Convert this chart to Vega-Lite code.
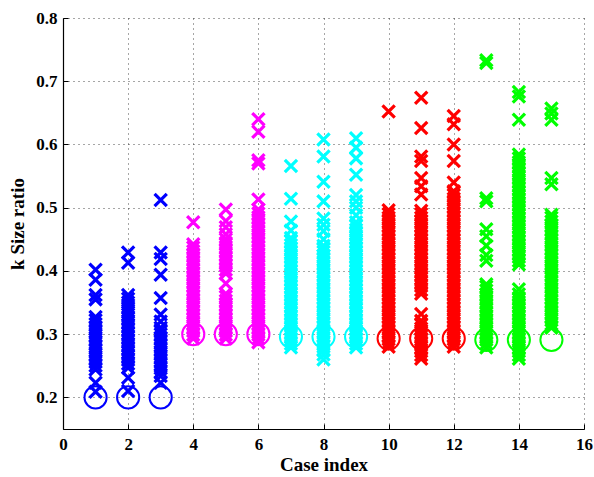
{
"$schema": "https://vega.github.io/schema/vega-lite/v6.json",
"width": 521, "height": 411,
"autosize": "none",
"padding": {"left": 63, "top": 18, "right": 10, "bottom": 48},
"background": "white",
"config": {
 "view": {"stroke": null},
 "axis": {
  "labelFont": "Liberation Serif", "labelFontWeight": "bold", "labelFontSize": 17, "labelColor": "black",
  "titleFont": "Liberation Serif", "titleFontWeight": "bold", "titleFontSize": 19, "titleColor": "black",
  "domainColor": "black", "domainWidth": 1.2, "tickColor": "black", "tickSize": -5, "tickWidth": 1,
  "grid": true, "gridColor": "#222222", "gridDash": [1, 4], "gridWidth": 1, "gridOpacity": 0.8
 }
},
"datasets": {
 "xs": [
  {"c":1,"k":0.402},{"c":1,"k":0.386},{"c":1,"k":0.362},{"c":1,"k":0.355},{"c":1,"k":0.223},{"c":1,"k":0.209},
  {"c":1,"k":0.244},{"c":1,"k":0.25},{"c":1,"k":0.256},{"c":1,"k":0.262},{"c":1,"k":0.268},{"c":1,"k":0.274},{"c":1,"k":0.28},{"c":1,"k":0.286},{"c":1,"k":0.292},{"c":1,"k":0.298},{"c":1,"k":0.304},{"c":1,"k":0.31},{"c":1,"k":0.316},{"c":1,"k":0.322},{"c":1,"k":0.327},
  {"c":2,"k":0.429},{"c":2,"k":0.413},{"c":2,"k":0.231},{"c":2,"k":0.21},
  {"c":2,"k":0.247},{"c":2,"k":0.253},{"c":2,"k":0.259},{"c":2,"k":0.265},{"c":2,"k":0.271},{"c":2,"k":0.277},{"c":2,"k":0.283},{"c":2,"k":0.289},{"c":2,"k":0.295},{"c":2,"k":0.301},{"c":2,"k":0.307},{"c":2,"k":0.313},{"c":2,"k":0.319},{"c":2,"k":0.325},{"c":2,"k":0.331},{"c":2,"k":0.337},{"c":2,"k":0.343},{"c":2,"k":0.35},{"c":2,"k":0.356},{"c":2,"k":0.362},
  {"c":3,"k":0.512},{"c":3,"k":0.429},{"c":3,"k":0.419},{"c":3,"k":0.394},{"c":3,"k":0.357},{"c":3,"k":0.331},{"c":3,"k":0.32},{"c":3,"k":0.223},
  {"c":3,"k":0.234},{"c":3,"k":0.24},{"c":3,"k":0.246},{"c":3,"k":0.252},{"c":3,"k":0.258},{"c":3,"k":0.264},{"c":3,"k":0.27},{"c":3,"k":0.276},{"c":3,"k":0.282},{"c":3,"k":0.288},{"c":3,"k":0.294},{"c":3,"k":0.3},{"c":3,"k":0.306},{"c":3,"k":0.31},
  {"c":4,"k":0.477},
  {"c":4,"k":0.293},{"c":4,"k":0.299},{"c":4,"k":0.305},{"c":4,"k":0.311},{"c":4,"k":0.317},{"c":4,"k":0.323},{"c":4,"k":0.329},{"c":4,"k":0.335},{"c":4,"k":0.341},{"c":4,"k":0.347},{"c":4,"k":0.353},{"c":4,"k":0.359},{"c":4,"k":0.365},{"c":4,"k":0.371},{"c":4,"k":0.377},{"c":4,"k":0.383},{"c":4,"k":0.389},{"c":4,"k":0.395},{"c":4,"k":0.401},{"c":4,"k":0.407},{"c":4,"k":0.413},{"c":4,"k":0.419},{"c":4,"k":0.425},{"c":4,"k":0.431},{"c":4,"k":0.437},{"c":4,"k":0.442},
  {"c":5,"k":0.497},{"c":5,"k":0.479},{"c":5,"k":0.469},
  {"c":5,"k":0.293},{"c":5,"k":0.299},{"c":5,"k":0.305},{"c":5,"k":0.311},{"c":5,"k":0.317},{"c":5,"k":0.323},{"c":5,"k":0.329},{"c":5,"k":0.335},{"c":5,"k":0.341},{"c":5,"k":0.347},{"c":5,"k":0.353},{"c":5,"k":0.359},{"c":5,"k":0.364},{"c":5,"k":0.38},{"c":5,"k":0.396},{"c":5,"k":0.402},{"c":5,"k":0.408},{"c":5,"k":0.414},{"c":5,"k":0.42},{"c":5,"k":0.426},{"c":5,"k":0.432},{"c":5,"k":0.438},{"c":5,"k":0.444},{"c":5,"k":0.45},{"c":5,"k":0.458},
  {"c":6,"k":0.64},{"c":6,"k":0.62},{"c":6,"k":0.575},{"c":6,"k":0.57},{"c":6,"k":0.513},
  {"c":6,"k":0.287},{"c":6,"k":0.293},{"c":6,"k":0.299},{"c":6,"k":0.305},{"c":6,"k":0.311},{"c":6,"k":0.317},{"c":6,"k":0.323},{"c":6,"k":0.329},{"c":6,"k":0.335},{"c":6,"k":0.341},{"c":6,"k":0.347},{"c":6,"k":0.353},{"c":6,"k":0.359},{"c":6,"k":0.365},{"c":6,"k":0.371},{"c":6,"k":0.377},{"c":6,"k":0.383},{"c":6,"k":0.389},{"c":6,"k":0.395},{"c":6,"k":0.401},{"c":6,"k":0.407},{"c":6,"k":0.413},{"c":6,"k":0.419},{"c":6,"k":0.425},{"c":6,"k":0.431},{"c":6,"k":0.437},{"c":6,"k":0.443},{"c":6,"k":0.449},{"c":6,"k":0.455},{"c":6,"k":0.461},{"c":6,"k":0.467},{"c":6,"k":0.473},{"c":6,"k":0.479},{"c":6,"k":0.485},{"c":6,"k":0.491},{"c":6,"k":0.497},
  {"c":7,"k":0.566},{"c":7,"k":0.514},{"c":7,"k":0.478},{"c":7,"k":0.464},
  {"c":7,"k":0.279},{"c":7,"k":0.285},{"c":7,"k":0.291},{"c":7,"k":0.297},{"c":7,"k":0.303},{"c":7,"k":0.309},{"c":7,"k":0.315},{"c":7,"k":0.321},{"c":7,"k":0.327},{"c":7,"k":0.333},{"c":7,"k":0.339},{"c":7,"k":0.345},{"c":7,"k":0.351},{"c":7,"k":0.357},{"c":7,"k":0.363},{"c":7,"k":0.369},{"c":7,"k":0.375},{"c":7,"k":0.381},{"c":7,"k":0.387},{"c":7,"k":0.393},{"c":7,"k":0.399},{"c":7,"k":0.405},{"c":7,"k":0.411},{"c":7,"k":0.417},{"c":7,"k":0.423},{"c":7,"k":0.429},{"c":7,"k":0.435},{"c":7,"k":0.441},{"c":7,"k":0.447},{"c":7,"k":0.452},
  {"c":8,"k":0.608},{"c":8,"k":0.581},{"c":8,"k":0.541},{"c":8,"k":0.51},{"c":8,"k":0.483},{"c":8,"k":0.473},{"c":8,"k":0.463},{"c":8,"k":0.45},{"c":8,"k":0.26},
  {"c":8,"k":0.268},{"c":8,"k":0.274},{"c":8,"k":0.28},{"c":8,"k":0.286},{"c":8,"k":0.292},{"c":8,"k":0.298},{"c":8,"k":0.304},{"c":8,"k":0.31},{"c":8,"k":0.316},{"c":8,"k":0.322},{"c":8,"k":0.328},{"c":8,"k":0.334},{"c":8,"k":0.34},{"c":8,"k":0.346},{"c":8,"k":0.352},{"c":8,"k":0.358},{"c":8,"k":0.364},{"c":8,"k":0.37},{"c":8,"k":0.376},{"c":8,"k":0.382},{"c":8,"k":0.388},{"c":8,"k":0.394},{"c":8,"k":0.4},{"c":8,"k":0.406},{"c":8,"k":0.412},{"c":8,"k":0.418},{"c":8,"k":0.424},{"c":8,"k":0.43},{"c":8,"k":0.436},{"c":8,"k":0.44},
  {"c":9,"k":0.61},{"c":9,"k":0.595},{"c":9,"k":0.578},{"c":9,"k":0.552},{"c":9,"k":0.52},{"c":9,"k":0.51},{"c":9,"k":0.5},{"c":9,"k":0.488},
  {"c":9,"k":0.279},{"c":9,"k":0.285},{"c":9,"k":0.291},{"c":9,"k":0.297},{"c":9,"k":0.303},{"c":9,"k":0.309},{"c":9,"k":0.315},{"c":9,"k":0.321},{"c":9,"k":0.327},{"c":9,"k":0.333},{"c":9,"k":0.339},{"c":9,"k":0.345},{"c":9,"k":0.351},{"c":9,"k":0.357},{"c":9,"k":0.363},{"c":9,"k":0.369},{"c":9,"k":0.375},{"c":9,"k":0.381},{"c":9,"k":0.387},{"c":9,"k":0.393},{"c":9,"k":0.399},{"c":9,"k":0.405},{"c":9,"k":0.411},{"c":9,"k":0.417},{"c":9,"k":0.423},{"c":9,"k":0.429},{"c":9,"k":0.435},{"c":9,"k":0.441},{"c":9,"k":0.447},{"c":9,"k":0.453},{"c":9,"k":0.459},{"c":9,"k":0.465},{"c":9,"k":0.471},{"c":9,"k":0.477},
  {"c":10,"k":0.652},
  {"c":10,"k":0.28},{"c":10,"k":0.286},{"c":10,"k":0.292},{"c":10,"k":0.298},{"c":10,"k":0.304},{"c":10,"k":0.31},{"c":10,"k":0.316},{"c":10,"k":0.322},{"c":10,"k":0.328},{"c":10,"k":0.334},{"c":10,"k":0.34},{"c":10,"k":0.346},{"c":10,"k":0.352},{"c":10,"k":0.358},{"c":10,"k":0.364},{"c":10,"k":0.37},{"c":10,"k":0.376},{"c":10,"k":0.382},{"c":10,"k":0.388},{"c":10,"k":0.394},{"c":10,"k":0.4},{"c":10,"k":0.406},{"c":10,"k":0.412},{"c":10,"k":0.418},{"c":10,"k":0.424},{"c":10,"k":0.43},{"c":10,"k":0.436},{"c":10,"k":0.442},{"c":10,"k":0.448},{"c":10,"k":0.454},{"c":10,"k":0.46},{"c":10,"k":0.466},{"c":10,"k":0.472},{"c":10,"k":0.478},{"c":10,"k":0.484},{"c":10,"k":0.49},{"c":10,"k":0.496},
  {"c":11,"k":0.674},{"c":11,"k":0.626},{"c":11,"k":0.581},{"c":11,"k":0.574},{"c":11,"k":0.547},{"c":11,"k":0.534},{"c":11,"k":0.521},
  {"c":11,"k":0.364},{"c":11,"k":0.37},{"c":11,"k":0.376},{"c":11,"k":0.382},{"c":11,"k":0.388},{"c":11,"k":0.394},{"c":11,"k":0.4},{"c":11,"k":0.406},{"c":11,"k":0.412},{"c":11,"k":0.418},{"c":11,"k":0.424},{"c":11,"k":0.43},{"c":11,"k":0.436},{"c":11,"k":0.442},{"c":11,"k":0.448},{"c":11,"k":0.454},{"c":11,"k":0.46},{"c":11,"k":0.466},{"c":11,"k":0.472},{"c":11,"k":0.478},{"c":11,"k":0.484},{"c":11,"k":0.49},{"c":11,"k":0.495},
  {"c":11,"k":0.261},{"c":11,"k":0.267},{"c":11,"k":0.273},{"c":11,"k":0.279},{"c":11,"k":0.285},{"c":11,"k":0.291},{"c":11,"k":0.297},{"c":11,"k":0.303},{"c":11,"k":0.309},{"c":11,"k":0.315},{"c":11,"k":0.321},{"c":11,"k":0.332},
  {"c":12,"k":0.645},{"c":12,"k":0.632},{"c":12,"k":0.6},{"c":12,"k":0.574},{"c":12,"k":0.54},
  {"c":12,"k":0.28},{"c":12,"k":0.286},{"c":12,"k":0.292},{"c":12,"k":0.298},{"c":12,"k":0.304},{"c":12,"k":0.31},{"c":12,"k":0.316},{"c":12,"k":0.322},{"c":12,"k":0.328},{"c":12,"k":0.334},{"c":12,"k":0.34},{"c":12,"k":0.346},{"c":12,"k":0.352},{"c":12,"k":0.358},{"c":12,"k":0.364},{"c":12,"k":0.37},{"c":12,"k":0.376},{"c":12,"k":0.382},{"c":12,"k":0.388},{"c":12,"k":0.394},{"c":12,"k":0.4},{"c":12,"k":0.406},{"c":12,"k":0.412},{"c":12,"k":0.418},{"c":12,"k":0.424},{"c":12,"k":0.43},{"c":12,"k":0.436},{"c":12,"k":0.442},{"c":12,"k":0.448},{"c":12,"k":0.454},{"c":12,"k":0.46},{"c":12,"k":0.466},{"c":12,"k":0.472},{"c":12,"k":0.478},{"c":12,"k":0.484},{"c":12,"k":0.49},{"c":12,"k":0.496},{"c":12,"k":0.502},{"c":12,"k":0.508},{"c":12,"k":0.514},{"c":12,"k":0.52},{"c":12,"k":0.526},
  {"c":13,"k":0.733},{"c":13,"k":0.729},{"c":13,"k":0.515},{"c":13,"k":0.51},{"c":13,"k":0.466},{"c":13,"k":0.455},{"c":13,"k":0.44},{"c":13,"k":0.425},{"c":13,"k":0.416},
  {"c":13,"k":0.279},{"c":13,"k":0.285},{"c":13,"k":0.291},{"c":13,"k":0.297},{"c":13,"k":0.303},{"c":13,"k":0.309},{"c":13,"k":0.315},{"c":13,"k":0.321},{"c":13,"k":0.327},{"c":13,"k":0.333},{"c":13,"k":0.339},{"c":13,"k":0.345},{"c":13,"k":0.351},{"c":13,"k":0.357},{"c":13,"k":0.363},{"c":13,"k":0.369},{"c":13,"k":0.375},{"c":13,"k":0.379},
  {"c":14,"k":0.683},{"c":14,"k":0.676},{"c":14,"k":0.639},
  {"c":14,"k":0.41},{"c":14,"k":0.416},{"c":14,"k":0.422},{"c":14,"k":0.428},{"c":14,"k":0.434},{"c":14,"k":0.44},{"c":14,"k":0.446},{"c":14,"k":0.452},{"c":14,"k":0.458},{"c":14,"k":0.464},{"c":14,"k":0.47},{"c":14,"k":0.476},{"c":14,"k":0.482},{"c":14,"k":0.488},{"c":14,"k":0.494},{"c":14,"k":0.5},{"c":14,"k":0.506},{"c":14,"k":0.512},{"c":14,"k":0.518},{"c":14,"k":0.524},{"c":14,"k":0.53},{"c":14,"k":0.536},{"c":14,"k":0.542},{"c":14,"k":0.548},{"c":14,"k":0.554},{"c":14,"k":0.56},{"c":14,"k":0.566},{"c":14,"k":0.572},{"c":14,"k":0.578},{"c":14,"k":0.584},
  {"c":14,"k":0.261},{"c":14,"k":0.267},{"c":14,"k":0.273},{"c":14,"k":0.279},{"c":14,"k":0.285},{"c":14,"k":0.291},{"c":14,"k":0.297},{"c":14,"k":0.303},{"c":14,"k":0.309},{"c":14,"k":0.315},{"c":14,"k":0.321},{"c":14,"k":0.327},{"c":14,"k":0.333},{"c":14,"k":0.339},{"c":14,"k":0.345},{"c":14,"k":0.351},{"c":14,"k":0.357},{"c":14,"k":0.363},{"c":14,"k":0.371},
  {"c":15,"k":0.657},{"c":15,"k":0.649},{"c":15,"k":0.639},{"c":15,"k":0.547},{"c":15,"k":0.537},
  {"c":15,"k":0.31},{"c":15,"k":0.316},{"c":15,"k":0.322},{"c":15,"k":0.328},{"c":15,"k":0.334},{"c":15,"k":0.34},{"c":15,"k":0.346},{"c":15,"k":0.352},{"c":15,"k":0.358},{"c":15,"k":0.364},{"c":15,"k":0.37},{"c":15,"k":0.376},{"c":15,"k":0.382},{"c":15,"k":0.388},{"c":15,"k":0.394},{"c":15,"k":0.4},{"c":15,"k":0.406},{"c":15,"k":0.412},{"c":15,"k":0.418},{"c":15,"k":0.424},{"c":15,"k":0.43},{"c":15,"k":0.436},{"c":15,"k":0.442},{"c":15,"k":0.448},{"c":15,"k":0.454},{"c":15,"k":0.46},{"c":15,"k":0.466},{"c":15,"k":0.472},{"c":15,"k":0.478},{"c":15,"k":0.484},{"c":15,"k":0.489}
 ],
 "circ": [
  {"c":1,"k":0.2},{"c":2,"k":0.2},{"c":3,"k":0.2},
  {"c":4,"k":0.3},{"c":5,"k":0.3},{"c":6,"k":0.3},
  {"c":7,"k":0.296},{"c":8,"k":0.296},{"c":9,"k":0.296},
  {"c":10,"k":0.293},{"c":11,"k":0.293},{"c":12,"k":0.293},
  {"c":13,"k":0.291},{"c":14,"k":0.291},{"c":15,"k":0.291}
 ]
},
"encoding": {
 "x": {"field": "c", "type": "quantitative", "title": "Case index",
  "scale": {"domain": [0, 16], "nice": false, "zero": false},
  "axis": {"values": [0,2,4,6,8,10,12,14,16], "format": "d", "labelPadding": 12, "titlePadding": 3, "labelFlush": false}},
 "y": {"field": "k", "type": "quantitative", "title": "k Size ratio",
  "scale": {"domain": [0.15, 0.8], "nice": false, "zero": false},
  "axis": {"values": [0.2,0.3,0.4,0.5,0.6,0.7,0.8], "format": ".1f", "labelPadding": 11, "titlePadding": 8, "labelFlush": false}},
 "color": {"field": "c", "type": "nominal", "legend": null,
  "scale": {"domain": [1,2,3,4,5,6,7,8,9,10,11,12,13,14,15],
   "range": ["#0000ff","#0000ff","#0000ff","#ff00ff","#ff00ff","#ff00ff","#00ffff","#00ffff","#00ffff","#ff0000","#ff0000","#ff0000","#00ff00","#00ff00","#00ff00"]}}
},
"layer": [
 {"data": {"name": "xs"},
  "mark": {"type": "point", "shape": "M-1,-1L1,1M-1,1L1,-1", "filled": false, "size": 150, "strokeWidth": 3.2, "opacity": 1, "clip": true}},
 {"data": {"name": "circ"},
  "mark": {"type": "point", "shape": "circle", "filled": false, "size": 490, "strokeWidth": 2, "opacity": 1}}
]
}
